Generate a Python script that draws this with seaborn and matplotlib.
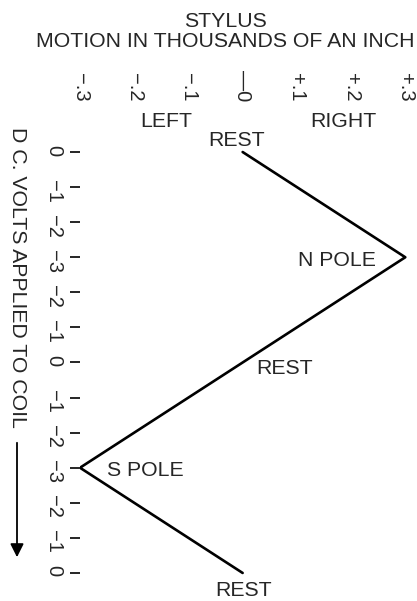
import matplotlib
matplotlib.use("Agg")
import matplotlib.pyplot as plt
import seaborn as sns

# ---- data ----
x_ticks = [-0.3, -0.2, -0.1, 0.0, 0.1, 0.2, 0.3]
x_tick_labels = ["\u2212.3", "\u2212.2", "\u2212.1", "\u20140", "+.1", "+.2", "+.3"]
y_ticks = list(range(13))
y_tick_labels = ["0", "\u22121", "\u22122", "\u22123", "\u22122", "\u22121", "0",
                 "\u22121", "\u22122", "\u22123", "\u22122", "\u22121", "0"]
motion = [0.0, 0.3, -0.3, 0.0]      # stylus motion (thousandths of an inch)
step = [0, 3, 9, 12]                # position on the volts scale
notes = ["REST", "N POLE", "REST", "S POLE", "REST"]
note_x = [-0.012, 0.174, 0.078, -0.18, 0.001]
note_y = [-0.34, 3.08, 6.16, 9.07, 12.49]

sns.set_style("white")
plt.rcParams["font.family"] = ["Liberation Sans", "DejaVu Sans"]
FS = 15.3

W, H = 417, 601
fig = plt.figure(figsize=(W / 100, H / 100), dpi=100)
ax_l, ax_r, ax_t, ax_b = 80, 408, 141.5, 587
ax = fig.add_axes([ax_l / W, (H - ax_b) / H, (ax_r - ax_l) / W, (ax_b - ax_t) / H])

sns.lineplot(x=motion, y=step, sort=False, estimator=None, color="black",
             linewidth=1.9, ax=ax)

ax.set_xlim(-0.3, 0.305)
ax.set_ylim(12.4, -0.3)
for s in ax.spines.values():
    s.set_visible(False)

ax.xaxis.tick_top()
ax.set_xticks(x_ticks, x_tick_labels, rotation=-90, fontsize=14.5)
ax.tick_params(axis="x", length=0, pad=29)
ax.set_yticks(y_ticks, y_tick_labels, rotation=-90, fontsize=14.5)
ax.tick_params(axis="y", left=True, length=7, width=1.2, pad=5, color="black")

ax.xaxis.set_label_position("top")
ax.set_xlabel("STYLUS\nMOTION IN THOUSANDS OF AN INCH", fontsize=FS, linespacing=1.1)
ax.xaxis.set_label_coords((225 - ax_l) / (ax_r - ax_l), 1 + (ax_t - 31.5) / (ax_b - ax_t))
ax.xaxis.label.set_va("center")

tr = ax.get_xaxis_transform()
yside = 1 + (ax_t - 121) / (ax_b - ax_t)
ax.text(-0.14, yside, "LEFT", transform=tr, ha="center", va="center", fontsize=FS)
ax.text(0.185, yside, "RIGHT", transform=tr, ha="center", va="center", fontsize=FS)

for t, xx, yy in zip(notes, note_x, note_y):
    ax.text(xx, yy, t, ha="center", va="center", fontsize=FS, clip_on=False)

fig.text(17 / W, 1 - 127 / H, "D C. VOLTS APPLIED TO COIL", rotation=-90,
         ha="center", va="top", fontsize=FS)
ax.annotate("", xy=(17 / W, 1 - 560 / H), xytext=(17 / W, 1 - 440 / H),
            xycoords="figure fraction", textcoords="figure fraction",
            arrowprops=dict(arrowstyle="-|>", color="black", lw=1.3,
                            mutation_scale=20))

fig.savefig("out.png", dpi=100)
